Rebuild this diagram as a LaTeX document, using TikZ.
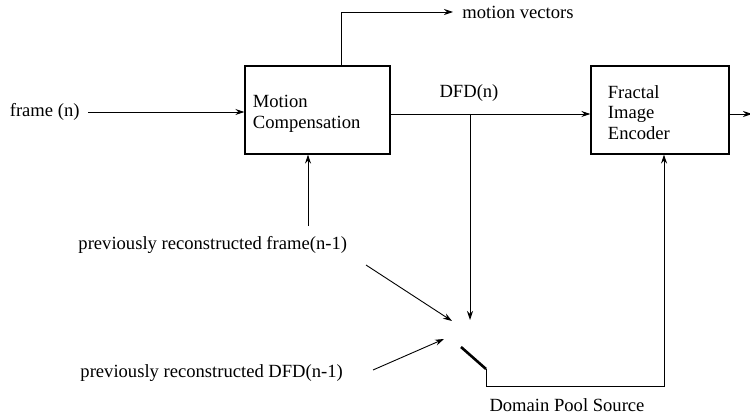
\documentclass[tikz,border=0pt]{standalone}
\usepackage{fontspec}
\setmainfont{Liberation Serif}
\usetikzlibrary{arrows.meta,calc}
\begin{document}
\begin{tikzpicture}[x=1pt,y=-1pt,
  font=\fontsize{18.6}{20.8}\selectfont,
  line width=0.9pt,
  >={Stealth[length=9pt,width=6pt,inset=3pt]},
  blk/.style={draw,line width=1.1pt,rectangle,minimum height=88pt,inner sep=0pt,anchor=center},
  lbl/.style={inner sep=0pt},
  blktext/.style={inner sep=0pt,align=left,anchor=west}
]
\useasboundingbox (0,0) rectangle (750,417);
\node[blk,minimum width=145pt] (mc) at (317.5,110) {};
\node[blktext] (mct) at ([xshift=8pt,yshift=-4pt]mc.west) {Motion\\Compensation};
\node[blk,minimum width=138pt] (fie) at (660,110) {};
\node[blktext] (fiet) at ([xshift=17pt,yshift=-2.5pt]fie.west) {Fractal\\Image\\Encoder};
\node[lbl,anchor=east] (frame) at (80,112) {frame (n)};
\node[lbl,anchor=west] (mv) at (462,12) {motion vectors};
\node[lbl] (dfd) at (469,93) {DFD(n)};
\node[lbl,anchor=west] (prf) at (78,245) {previously reconstructed frame(n-1)};
\node[lbl,anchor=west] (pdfd) at (80,373) {previously reconstructed DFD(n-1)};
\node[lbl] (dps) at (567,405) {Domain Pool Source};
\coordinate (br) at (470,114);
\coordinate (tipA) at (470,320);
\coordinate (startB) at (366,265);
\coordinate (tipB) at (452,321);
\coordinate (startC) at (373,370);
\coordinate (tipC) at (444,339);
\coordinate (swA) at (461,347);
\coordinate (swB) at (486,369);
\coordinate (swC) at (486,386);
\coordinate (out) at (752,114);
% connectors
\draw[->] ([xshift=8pt]frame.east) -- (mc.west |- frame.east);
\draw[->] (mc.north -| 341,0) |- ([xshift=-9pt]mv.west);
\draw[->] (mc.east |- br) -- (fie.west |- br);
\draw[->] (br) -- (tipA);
\draw[->] (308,226) -- (mc.south -| 308,0);
\draw[->] (startB) -- (tipB);
\draw[->] (startC) -- (tipC);
\draw[line width=2.6pt] (swA) -- (swB);
\draw[->] (swB) -- (swC) -| (fie.south -| 664,0);
\draw[->] (fie.east |- out) -- (out);
\end{tikzpicture}
\end{document}
